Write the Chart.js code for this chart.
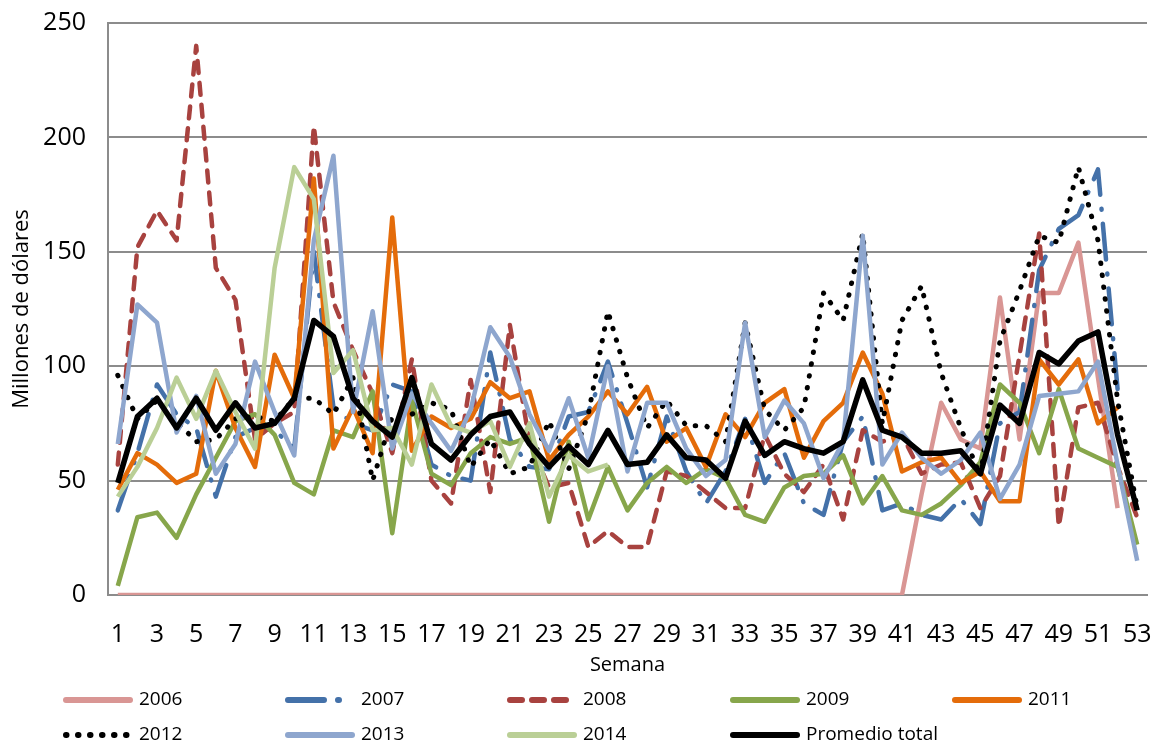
<!DOCTYPE html>
<html>
<head>
<meta charset="utf-8">
<script src="https://cdn.jsdelivr.net/npm/chart.js@4.4.1/dist/chart.umd.min.js"></script>
<style>
  html, body { margin: 0; padding: 0; background: #ffffff; }
  #wrap { width: 1153px; height: 745px; position: relative; }
</style>
</head>
<body>
<div id="wrap"><canvas id="chart"></canvas></div>
<script>
// semanas 1..53
var weeks = [];
for (var w = 1; w <= 53; w++) weeks.push(String(w));

var yTicks = [0, 50, 100, 150, 200, 250];

var s2006 = [0,0,0,0,0,0,0,0,0,0, 0,0,0,0,0,0,0,0,0,0, 0,0,0,0,0,0,0,0,0,0,
             0,0,0,0,0,0,0,0,0,0, 0,44,84,68,64,130,68,132,132,154, 95,38,null];
var s2007 = [37,62,92,79,73,43,69,73,72,64, 150,82,75,72,92,89,57,52,50,106,
             68,56,55,78,80,102,75,47,78,54, 40,54,77,49,62,40,35,67,78,37,
             40,35,33,42,31,75,80,142,160,166, 186,90,null];
var s2008 = [57,152,168,155,240,143,129,68,75,80, 205,128,107,88,62,103,50,40,94,45,
             118,67,47,49,21,28,21,21,54,52, 45,38,38,70,53,45,57,33,72,67,
             70,53,57,58,38,52,105,158,30,82, 84,56,34];
var s2009 = [4,34,36,25,44,60,76,79,70,49, 44,72,69,89,27,85,53,48,62,69,
             66,69,32,67,33,56,37,49,56,49, 55,51,35,32,47,52,53,61,40,52,
             37,35,40,48,58,92,84,62,90,64, 60,56,22];
var s2011 = [46,62,57,49,53,98,73,56,105,86, 182,64,82,62,165,63,78,73,77,93,
             86,89,59,70,78,89,79,91,67,73, 56,79,69,84,90,60,76,84,106,88,
             54,58,60,49,54,41,41,103,92,103, 75,82,null];
var s2012 = [96,77,85,76,67,68,77,78,76,86, 86,79,95,50,78,79,84,81,56,68,
             53,56,76,55,79,124,95,73,85,74, 74,67,119,81,72,82,132,120,158,75,
             120,135,97,73,52,111,133,157,154,187, 155,85,38];
var s2013 = [66,127,119,71,87,53,66,102,80,61, 155,192,80,124,64,88,75,63,81,117,
             104,79,63,86,60,100,54,84,84,64, 52,59,119,69,85,75,51,67,157,57,
             71,60,53,59,71,42,57,87,88,89, 102,57,15];
var s2014 = [43,56,73,95,77,98,80,64,143,187, 173,97,107,72,73,57,92,74,71,76,
             56,75,43,61,54,57,null,null,null,null, null,null,null,null,null,null,null,null,null,null,
             null,null,null,null,null,null,null,null,null,null, null,null,null];
var promedio = [49,78,86,73,86,72,84,73,75,86, 120,113,86,76,69,95,66,59,70,78,
                80,66,56,65,57,72,57,58,70,60, 59,51,76,61,67,64,62,67,94,72,
                69,62,62,63,53,83,75,106,101,111, 115,70,37];

var seriesNames = ['2006', '2007', '2008', '2009', '2011', '2012', '2013', '2014', 'Promedio total'];
var seriesData = [s2006, s2007, s2008, s2009, s2011, s2012, s2013, s2014, promedio];
var seriesColors = ['#D99694', '#4471A9', '#A8423F', '#87A64B', '#E46C0A', '#000000', '#8EA6CE', '#BACF96', '#000000'];
var seriesDash = [[], [36, 14, 1, 14], [12, 10], [], [], [0.5, 11.5], [], [], []];
var seriesWidth = [4.5, 4.5, 4.5, 4.5, 4.5, 5, 4.5, 4.5, 5.5];

// posiciones de la leyenda (dos filas, cinco columnas)
var legendPos = [
    {x: 63, y: 700}, {x: 285, y: 700}, {x: 507, y: 700}, {x: 730, y: 700}, {x: 952, y: 700},
    {x: 63, y: 735}, {x: 285, y: 735}, {x: 507, y: 735}, {x: 730, y: 735}
];

var datasets = seriesNames.map(function (name, i) {
    return {
        label: name,
        data: seriesData[i],
        borderColor: seriesColors[i],
        backgroundColor: seriesColors[i],
        borderWidth: seriesWidth[i],
        borderDash: seriesDash[i],
        borderCapStyle: seriesDash[i].length ? 'round' : 'butt',
        borderJoinStyle: 'round',
        pointRadius: 0,
        pointHoverRadius: 0,
        tension: 0,
        fill: false,
        spanGaps: false,
        order: seriesNames.length - 1 - i
    };
});

var gridLegend = {
    id: 'gridLegend',
    afterDraw: function (chart) {
        var ctx = chart.ctx;
        chart.data.datasets.forEach(function (ds, i) {
            var p = legendPos[i];
            ctx.save();
            ctx.strokeStyle = ds.borderColor;
            ctx.lineWidth = 6;
            ctx.lineCap = 'round';
            ctx.setLineDash(ds.borderDash);
            ctx.beginPath();
            ctx.moveTo(p.x + 3, p.y);
            ctx.lineTo(p.x + 67, p.y);
            ctx.stroke();
            ctx.setLineDash([]);
            ctx.fillStyle = '#000000';
            ctx.font = '19px "Open Sans"';
            ctx.textBaseline = 'middle';
            ctx.textAlign = 'left';
            ctx.fillText(ds.label, p.x + 76, p.y);
            ctx.restore();
        });
    }
};

document.addEventListener('DOMContentLoaded', function () {
    var ctx = document.getElementById('chart').getContext('2d');
    var chart = new Chart(ctx, {
        type: 'line',
        data: {
            labels: weeks,
            datasets: datasets
        },
        options: {
            responsive: true,
            maintainAspectRatio: false,
            animation: false,
            devicePixelRatio: 1,
            layout: {
                padding: {top: 23, right: 6, bottom: 68, left: 0}
            },
            plugins: {
                legend: {display: false},
                tooltip: {enabled: false}
            },
            scales: {
                x: {
                    offset: true,
                    grid: {display: false, drawTicks: false},
                    border: {display: true, color: '#8c8c8c', width: 2},
                    ticks: {
                        autoSkip: false,
                        maxRotation: 0,
                        padding: 25,
                        color: '#000000',
                        font: {family: 'Open Sans', size: 25},
                        callback: function (val, index) {
                            return index % 2 === 0 ? weeks[index] : '';
                        }
                    },
                    title: {
                        display: true,
                        text: 'Semana',
                        color: '#000000',
                        font: {family: 'Open Sans', size: 20},
                        padding: {top: 0, bottom: 0}
                    },
                    afterFit: function (scale) {
                        scale.height = 82;
                        scale.paddingLeft = 0;
                        scale.paddingRight = 0;
                    }
                },
                y: {
                    min: 0,
                    max: 250,
                    afterBuildTicks: function (scale) {
                        scale.ticks = yTicks.map(function (v) { return {value: v}; });
                    },
                    grid: {color: '#8c8c8c', lineWidth: 2, drawTicks: false},
                    border: {display: true, color: '#8c8c8c', width: 2},
                    ticks: {
                        padding: 22,
                        color: '#000000',
                        font: {family: 'Open Sans', size: 25}
                    },
                    title: {
                        display: true,
                        text: 'Millones de dólares',
                        color: '#000000',
                        font: {family: 'Open Sans', size: 22},
                        padding: {top: 9, bottom: 0}
                    },
                    afterFit: function (scale) {
                        scale.width = 108;
                        scale.paddingTop = 0;
                        scale.paddingBottom = 0;
                    }
                }
            }
        },
        plugins: [gridLegend]
    });
});
</script>
</body>
</html>
